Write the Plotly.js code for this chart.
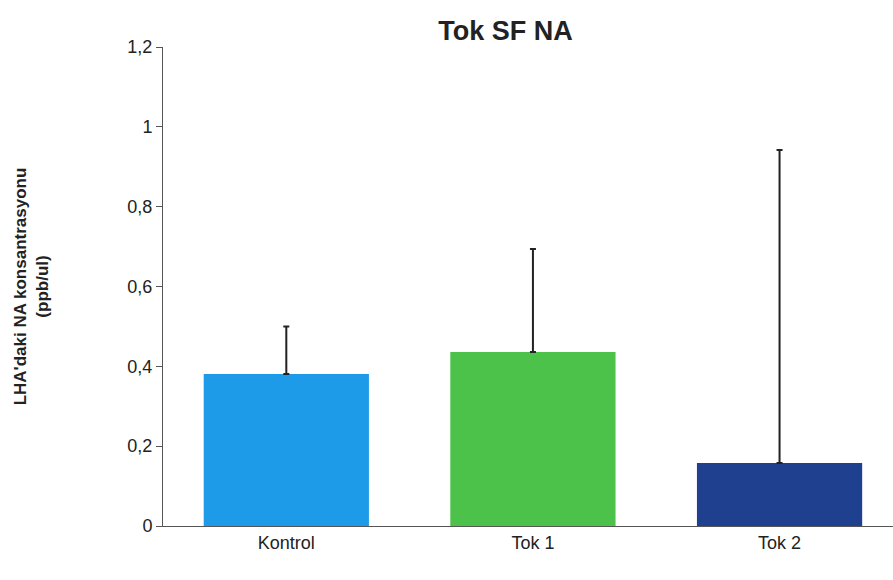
<!DOCTYPE html>
<html>
<head>
<meta charset="utf-8">
<script src="https://cdn.plot.ly/plotly-3.0.1.min.js"></script>
<style>body{margin:0;background:#fff}</style>
</head>
<body>
<div id="chart" style="width:893px;height:580px"></div>
<script>
"use strict"
let categories = ["Kontrol", "Tok 1", "Tok 2"];
let means = [0.381, 0.436, 0.158];
let errPlus = [0.119, 0.258, 0.784];
let colors = ["#1e9be8", "#4cc24a", "#1f3f8f"];

let data = [{
    type: "bar",
    x: categories,
    y: means,
    marker: { color: colors },
    width: 0.67,
    error_y: { type: "data", symmetric: false, array: errPlus, arrayminus: [0, 0, 0], color: "#222", thickness: 2, width: 3 }
}];

let layout = {
    width: 893, height: 580,
    margin: { l: 163, r: 0, t: 47, b: 54 },
    paper_bgcolor: "#fff", plot_bgcolor: "#fff",
    font: { family: "Liberation Sans, Arial, sans-serif", size: 18, color: "#222" },
    title: { text: "<b>Tok SF NA</b>", x: 0.566, y: 0.963, font: { size: 27 } },
    showlegend: false,
    xaxis: { range: [-0.5, 2.46], showline: true, linecolor: "#555", ticks: "", tickfont: { size: 18 } },
    yaxis: {
        range: [0, 1.2], dtick: 0.2, showgrid: false, zeroline: false,
        showline: true, linecolor: "#555", ticks: "outside", ticklen: 6, tickcolor: "#555",
        title: { text: "<b>LHA'daki NA konsantrasyonu<br>(ppb/ul)</b>", font: { size: 17 }, standoff: 74 }
    },
    separators: ",."
};

Plotly.newPlot("chart", data, layout, { displayModeBar: false });
</script>
</body>
</html>
